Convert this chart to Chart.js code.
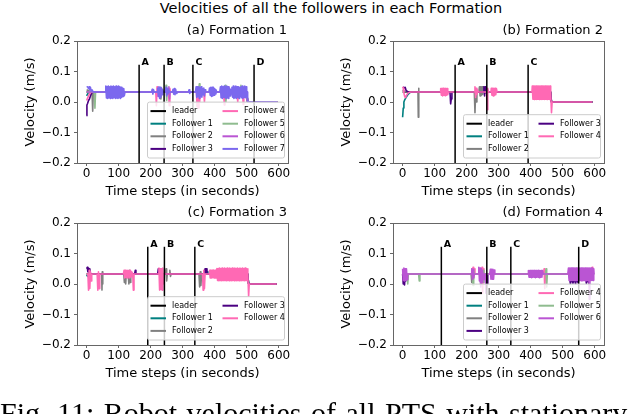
<!DOCTYPE html>
<html>
<head>
<meta charset="utf-8">
<script src="https://cdn.jsdelivr.net/npm/chart.js@4.4.1/dist/chart.umd.min.js"></script>
<style>
  html, body { margin: 0; padding: 0; background: #fff; }
  body { width: 632px; height: 414px; overflow: hidden; position: relative; font-family: "DejaVu Sans", sans-serif; }
  .panel { position: absolute; width: 316px; height: 185px; }
  #suptitle { position: absolute; left: 331px; top: 0; transform: translateX(-50%); font-size: 14.5px; line-height: 17px; white-space: nowrap; color: #000; }
  #caption { position: absolute; left: 0; top: 398px; font-family: "Liberation Serif", serif; font-size: 30px; line-height: 30px; white-space: nowrap; word-spacing: 2px; color: #000; }
</style>
</head>
<body>
<div id="suptitle">Velocities of all the followers in each Formation</div>
<div class="panel" style="left:0;top:20px"><canvas id="pa"></canvas></div>
<div class="panel" style="left:316px;top:20px"><canvas id="pb"></canvas></div>
<div class="panel" style="left:0;top:202px"><canvas id="pc"></canvas></div>
<div class="panel" style="left:316px;top:202px"><canvas id="pd"></canvas></div>
<div id="caption">Fig. 11: Robot velocities of all PTS with stationary obstacles</div>

<script>
// axis ticks
const timeTicks = [0, 100, 200, 300, 400, 500, 600];
const velTicks = [-0.2, -0.1, 0, 0.1, 0.2];
const velTickLabels = ["−0.2", "−0.1", "0.0", "0.1", "0.2"];

// event markers (A, B, C, D)
const markerNames = ["A", "B", "C", "D"];
const markerTop = 0.122;
const eventsA = [164, 242, 332, 523];
const eventsB = [164, 263, 392];
const eventsC = [191, 243, 338];
const eventsD = [121, 263, 338, 550];

// ---- Formation 1 ----
const leaderA = [[0,0.033],[500,0.033],[503,0],[596,0]];
const f1A = [[0,0.02],[5,0.03],[12,0.033],[500,0.033],[503,0],[596,0]];
const f2A = [[0,0.04],[10,0.035],[17,0.033],[19,-0.03],[21,0.033],[230,0.033],[232,0.01],[234,0.045],[236,0.033],[500,0.033],[503,0],[596,0]];
const f3A = [[0,-0.045],[1,-0.01],[3,-0.005],[6,0.005],[9,0.01],[12,0.02],[16,0.03],[20,0.033],[500,0.033],[503,0],[596,0]];
const f4A = [[0,0.005],[4,0.015],[8,0.025],[12,0.03],[16,0.033],[216,0.033],[218,-0.012],[220,0.05],[222,0.02],[224,0.033],
  [256,0.033],[258,-0.012],[260,0.045],[262,0.033],[343,0.033],[345,-0.015],[347,0.05],[349,-0.02],[351,0.045],[353,0.0],
  [355,0.033],[366,0.033],[368,0.0],[370,0.033],[428,0.033],[430,-0.01],[432,0.04],[434,0.033],[470,0.033],[472,0.0],
  [474,0.033],[487,0.033],[489,-0.008],[491,0.033],[500,0.033],[503,0],[596,0]];
const f5A = [[0,0.033],[24,0.033],[26,-0.02],[28,0.033],[246,0.033],[248,0.055],[250,0.005],[252,0.033],[350,0.033],[352,0.06],
  [354,0.033],[431,0.033],[433,0.055],[435,0.0],[437,0.033],[480,0.033],[482,0.055],[484,0.033],[500,0.033],[503,0],[596,0]];
const f6A = [[0,0.033],[255,0.033],[257,0.05],[259,0.01],[261,0.033],[440,0.033],[442,0.05],[444,0.033],[500,0.033],[503,0],[596,0]];
const f7A = [[0,0.05],[3,0.05],[6,0.044],[8,0.05],[10,0.04],[12,0.048],[14,0.036],[17,0.04],[20,0.034],[25,0.033],[58,0.033],
  [60,0.052],[62,0.013],[64,0.051],[66,0.012],[68,0.052],[70,0.014],[72,0.05],[74,0.012],[76,0.052],[78,0.013],
  [80,0.051],[82,0.012],[84,0.052],[86,0.015],[88,0.05],[90,0.012],[92,0.052],[94,0.013],[96,0.051],[98,0.012],
  [100,0.052],[102,0.014],[104,0.05],[106,0.012],[108,0.048],[110,0.016],[112,0.046],[114,0.018],[116,0.044],[118,0.022],
  [120,0.033],[203,0.033],[205,0.042],[207,0.026],[209,0.04],[211,0.033],[220,0.033],[222,0.046],[224,0.018],
  [226,0.05],[228,0.012],[230,0.048],[232,0.016],[234,0.046],[236,0.024],[238,0.04],[240,0.033],[246,0.033],
  [248,0.048],[250,0.02],[252,0.044],[254,0.026],[256,0.04],[258,0.033],[268,0.033],[270,0.042],[272,0.026],
  [274,0.044],[276,0.024],[278,0.042],[280,0.028],[282,0.033],[318,0.033],[320,0.04],[322,0.028],[324,0.033],
  [340,0.033],[342,0.05],[344,0.015],[346,0.05],[348,0.018],[350,0.05],[352,0.012],[354,0.048],[356,0.02],[358,0.05],
  [360,0.016],[362,0.044],[364,0.024],[366,0.046],[368,0.02],[370,0.04],[372,0.033],[382,0.033],[384,0.046],
  [386,0.022],[388,0.048],[390,0.018],[392,0.048],[394,0.02],[396,0.048],[398,0.022],[400,0.044],[402,0.026],
  [404,0.04],[406,0.033],[416,0.033],
  [418,0.05],[420,0.014],[422,0.052],[424,0.012],[426,0.05],[428,0.016],[430,0.052],[432,0.014],[434,0.05],[436,0.012],
  [438,0.052],[440,0.014],[442,0.05],[444,0.012],[446,0.046],[448,0.02],[450,0.042],[452,0.026],[454,0.048],[456,0.016],
  [458,0.052],[460,0.012],[462,0.05],[464,0.014],[466,0.052],[468,0.012],[470,0.05],[472,0.016],[474,0.05],[476,0.012],
  [478,0.048],[480,0.018],[482,0.05],[484,0.014],[486,0.052],[488,0.012],[490,0.05],[492,0.016],[494,0.052],[496,0.014],
  [498,0.05],[500,0.016],[501,0.033],[503,0.0],[596,0.0]];

// ---- Formation 2 ----
const leaderB = [[0,0.033],[462,0.033],[465,0],[593,0]];
const f1B = [[0,-0.05],[2,-0.02],[4,0.0],[7,0.008],[11,0.015],[15,0.022],[20,0.028],[26,0.033],[462,0.033],[465,0],[593,0]];
const f2B = [[0,0.04],[6,0.035],[10,0.033],[48,0.033],[49,-0.05],[50,0.045],[51,0.033],[224,0.033],[226,-0.035],[228,0.03],
  [230,0.0],[232,0.033],[238,0.033],[240,0.05],[242,0.02],[244,0.05],[246,0.022],[248,0.05],[250,0.025],[252,0.05],
  [254,0.033],[462,0.033],[465,0],[593,0]];
const f3B = [[2,0.05],[5,0.045],[8,0.048],[11,0.038],[14,0.035],[18,0.033],[148,0.033],[150,-0.006],[152,0.01],[154,0.033],
  [252,0.033],[254,0.05],[256,0.02],[258,0.05],[260,0.03],[262,0.033],[462,0.033],[465,0],[593,0]];
const f4B = [[0,0.05],[2,0.045],[4,0.03],[6,0.02],[8,0.015],[10,0.018],[14,0.025],[18,0.03],[24,0.033],
  [118,0.033],[119,0.044],[121,0.022],[123,0.045],[125,0.02],[127,0.045],[129,0.022],[131,0.044],[133,0.021],[135,0.045],
  [137,0.022],[139,0.044],[141,0.024],[143,0.033],[224,0.033],[226,0.05],[228,0.015],[230,0.045],[232,0.025],[234,0.04],
  [236,0.033],[262,0.033],[264,-0.025],[266,0.045],[268,0.033],[276,0.033],[277,0.045],[279,0.022],[281,0.045],[283,0.02],
  [285,0.045],[287,0.022],[289,0.045],[291,0.024],[293,0.044],[295,0.033],[404,0.033],
  [405,0.052],[407,0.009],[409,0.052],[411,0.008],[413,0.052],[415,0.009],[417,0.052],[419,0.008],[421,0.052],[423,0.009],
  [425,0.052],[427,0.008],[429,0.052],[431,0.009],[433,0.052],[435,0.008],[437,0.052],[439,0.009],[441,0.052],[443,0.008],
  [445,0.052],[447,0.009],[449,0.052],[451,0.008],[453,0.052],[455,0.009],[457,0.052],[459,0.008],[461,0.052],[462,0.01],
  [463,0.033],[465,-0.035],[467,0.0],[593,0.0]];

// ---- Formation 3 ----
const leaderC = [[0,0.033],[503,0.033],[506,0],[594,0]];
const f1C = [[0,0.03],[3,0.025],[6,0.03],[10,0.033],[375,0.033],[377,0.04],[379,0.033],[503,0.033],[506,0],[594,0]];
const f2C = [[0,0.033],[47,0.033],[48,-0.02],[49,0.04],[50,0.0],[51,0.033],[116,0.033],[118,0.005],[120,0.04],[122,0.0],
  [124,0.033],[130,0.033],[132,0.0],[134,0.045],[136,0.005],[138,0.033],[226,0.033],[228,0.05],[230,0.0],[232,0.05],
  [234,0.01],[236,0.033],[246,0.033],[248,0.05],[250,0.01],[252,0.033],[258,0.033],[260,0.045],[262,0.025],[264,0.033],
  [351,0.033],[353,-0.01],[355,0.04],[357,-0.005],[359,0.033],[503,0.033],[506,0],[594,0]];
const f3C = [[0,0.05],[2,0.055],[4,0.04],[6,0.052],[8,0.038],[10,0.05],[12,0.033],[150,0.033],[152,0.045],[154,0.033],
  [222,0.033],[224,0.05],[226,0.035],[228,0.05],[230,0.033],[368,0.033],[370,0.05],[372,0.038],[374,0.05],[376,0.033],
  [503,0.033],[506,0],[594,0]];
const f4C = [[0,0.033],[4,0.033],[6,-0.02],[8,0.045],[10,-0.015],[12,0.04],[14,0.01],[16,0.033],[33,0.033],[35,-0.02],
  [37,0.04],[39,-0.015],[41,0.033],[115,0.033],[117,0.045],[119,0.02],[121,0.045],[123,0.022],[125,0.044],[127,0.02],
  [129,0.045],[131,0.024],[133,0.044],[135,0.02],[137,0.045],[139,0.024],[141,0.04],[144,0.033],[146,-0.02],[148,0.033],
  [224,0.033],[226,0.052],[228,-0.02],[230,0.05],[232,-0.018],[234,0.05],[236,-0.02],[238,0.052],[240,0.0],[242,0.033],
  [362,0.033],[364,-0.02],[366,0.045],[368,-0.015],[370,0.033],[383,0.033],
  [384,0.045],[386,0.02],[388,0.046],[390,0.02],[392,0.045],[394,0.021],[396,0.046],[398,0.02],[400,0.045],[402,0.02],
  [404,0.046],[406,0.02],
  [407,0.051],[409,0.012],[411,0.051],[413,0.011],[415,0.052],[417,0.012],[419,0.051],[421,0.011],[423,0.052],[425,0.012],
  [427,0.051],[429,0.011],[431,0.052],[433,0.012],[435,0.051],[437,0.011],[439,0.052],[441,0.012],[443,0.051],[445,0.011],
  [447,0.052],[449,0.012],[451,0.051],[453,0.011],[455,0.052],[457,0.012],[459,0.051],[461,0.011],[463,0.052],[465,0.012],
  [467,0.051],[469,0.011],[471,0.052],[473,0.012],[475,0.051],[477,0.011],[479,0.052],[481,0.012],[483,0.051],[485,0.011],
  [487,0.052],[489,0.012],[491,0.051],[493,0.011],[495,0.052],[497,0.012],[499,0.051],[501,0.011],[503,0.05],
  [504,0.033],[506,-0.04],[508,0.0],[594,0.0]];

// ---- Formation 4 ----
const leaderD = [[0,0.033],[598,0.033]];
const f1D = [[0,0.033],[598,0.033]];
const f2D = [[0,0.033],[214,0.033],[216,0.005],[218,0.05],[220,0.033],[243,0.033],[245,0.0],[247,0.045],[249,0.033],[598,0.033]];
const f3D = [[0,0.033],[2,0.0],[4,0.02],[6,-0.003],[8,0.025],[10,0.01],[12,0.033],[240,0.033],[242,0.05],[244,0.0],
  [246,0.05],[248,0.005],[250,0.033],[262,0.033],[264,0.0],[266,0.033],[520,0.033],[524,0.0],[528,0.02],[532,0.002],
  [536,0.02],[540,0.0],[544,0.02],[548,0.004],[552,0.033],[570,0.033],[574,0.002],[578,0.02],[582,0.0],[586,0.033],[598,0.033]];
const f4D = [[0,0.033],[218,0.033],[220,0.055],[222,0.02],[224,0.05],[226,0.033],[246,0.033],[248,0.055],[250,-0.03],
  [252,0.05],[254,0.033],[440,0.033],[442,0.05],[444,-0.015],[446,0.033],[590,0.033],[592,0.055],[594,0.033],[598,0.033]];
const f5D = [[0,0.033],[14,0.033],[16,0.0],[18,0.033],[50,0.033],[52,0.01],[54,0.033],[218,0.033],[220,-0.005],[222,0.045],
  [224,0.033],[250,0.033],[252,0.045],[254,0.005],[256,0.033],[446,0.033],[448,0.05],[450,-0.01],[452,0.033],[598,0.033]];
const f6D = [[0,0.05],[2,0.012],[4,0.052],[6,0.01],[8,0.05],[10,0.012],[12,0.05],[14,0.014],[16,0.033],[214,0.033],
  [216,0.05],[218,0.015],[220,0.048],[222,0.02],[224,0.033],[236,0.033],[238,0.055],[240,0.01],[242,0.052],[244,-0.01],
  [246,0.05],[248,0.005],[250,0.045],[252,0.015],[254,0.033],[258,0.033],[260,-0.03],[262,0.033],[272,0.033],[274,0.048],
  [276,0.016],[278,0.048],[280,0.016],[282,0.048],[284,0.016],[286,0.046],[288,0.033],[392,0.033],
  [393,0.044],[395,0.022],[397,0.044],[399,0.022],[401,0.045],[403,0.021],[405,0.044],[407,0.022],[409,0.044],[411,0.022],
  [413,0.045],[415,0.021],[417,0.044],[419,0.022],[421,0.044],[423,0.022],[425,0.045],[427,0.021],[429,0.044],[431,0.022],
  [433,0.044],[435,0.022],[437,0.044],[439,0.033],[516,0.033],
  [518,0.052],[520,0.012],[522,0.052],[524,0.012],[526,0.052],[528,0.012],[530,0.052],[532,0.012],[534,0.052],[536,0.012],
  [538,0.052],[540,0.012],[542,0.052],[544,0.012],[546,0.052],[548,0.012],[550,0.052],[552,0.012],[554,0.052],[556,0.012],
  [558,0.052],[560,0.01],[562,0.052],[564,0.012],[566,0.052],[568,0.012],[570,0.052],[572,0.01],[574,0.052],[576,0.012],
  [578,0.052],[580,0.012],[582,0.052],[583,-0.05],[585,0.052],[587,0.012],[589,0.052],[591,0.012],[593,0.052],[595,0.012],
  [597,0.05],[598,0.033]];

const lineColors = {
  "leader": "#000000",
  "Follower 1": "#008080",
  "Follower 2": "#808080",
  "Follower 3": "#4b0082",
  "Follower 4": "#ff69b4",
  "Follower 5": "#8fbc8f",
  "Follower 6": "#ba55d3",
  "Follower 7": "#7b68ee"
};

const panels = [
  { id: "pa", title: "(a) Formation 1", events: eventsA,
    series: [["leader", leaderA], ["Follower 1", f1A], ["Follower 2", f2A], ["Follower 3", f3A],
             ["Follower 4", f4A], ["Follower 5", f5A], ["Follower 6", f6A], ["Follower 7", f7A]] },
  { id: "pb", title: "(b) Formation 2", events: eventsB,
    series: [["leader", leaderB], ["Follower 1", f1B], ["Follower 2", f2B], ["Follower 3", f3B], ["Follower 4", f4B]] },
  { id: "pc", title: "(c) Formation 3", events: eventsC,
    series: [["leader", leaderC], ["Follower 1", f1C], ["Follower 2", f2C], ["Follower 3", f3C], ["Follower 4", f4C]] },
  { id: "pd", title: "(d) Formation 4", events: eventsD,
    series: [["leader", leaderD], ["Follower 1", f1D], ["Follower 2", f2D], ["Follower 3", f3D],
             ["Follower 4", f4D], ["Follower 5", f5D], ["Follower 6", f6D]] }
];

// frame, subplot title, A/B/C/D labels and legend box
function decor(p) {
  return {
    id: "decor",
    afterDraw(chart) {
      const ctx = chart.ctx, ca = chart.chartArea;
      const xs = chart.scales.x, ys = chart.scales.y;
      ctx.save();
      ctx.strokeStyle = "#666";
      ctx.lineWidth = 1;
      ctx.strokeRect(Math.round(ca.left) + 0.5, Math.round(ca.top) + 0.5,
                     Math.round(ca.right - ca.left), Math.round(ca.bottom - ca.top));

      ctx.fillStyle = "#000";
      ctx.font = '13px "DejaVu Sans"';
      ctx.textAlign = "right";
      ctx.textBaseline = "middle";
      ctx.fillText(p.title, ca.right - 1, ca.top - 10);

      ctx.font = 'bold 9.5px "DejaVu Sans"';
      ctx.textAlign = "left";
      ctx.textBaseline = "alphabetic";
      p.events.forEach((ev, i) => {
        ctx.fillText(markerNames[i], xs.getPixelForValue(ev) + 2.5, ys.getPixelForValue(markerTop) + 0.5);
      });

      const rows = Math.ceil(p.series.length / 2);
      const w = 137, h = rows * 12.6 + 5.5;
      const right = ca.right - 3.5, bottom = ca.bottom - 5;
      const left = right - w, top = bottom - h, r = 2;
      ctx.beginPath();
      ctx.moveTo(left + r, top);
      ctx.lineTo(right - r, top);
      ctx.quadraticCurveTo(right, top, right, top + r);
      ctx.lineTo(right, bottom - r);
      ctx.quadraticCurveTo(right, bottom, right - r, bottom);
      ctx.lineTo(left + r, bottom);
      ctx.quadraticCurveTo(left, bottom, left, bottom - r);
      ctx.lineTo(left, top + r);
      ctx.quadraticCurveTo(left, top, left + r, top);
      ctx.closePath();
      ctx.fillStyle = "rgba(255,255,255,0.8)";
      ctx.fill();
      ctx.strokeStyle = "#cccccc";
      ctx.stroke();

      ctx.font = '8px "DejaVu Sans"';
      ctx.textBaseline = "middle";
      p.series.forEach(([name], i) => {
        const col = Math.floor(i / rows), row = i % rows;
        const cy = top + 9 + row * 12.6;
        const x0 = left + 3 + col * 72;
        ctx.strokeStyle = lineColors[name];
        ctx.lineWidth = 2;
        ctx.beginPath();
        ctx.moveTo(x0, cy);
        ctx.lineTo(x0 + 15.5, cy);
        ctx.stroke();
        ctx.fillStyle = "#000";
        ctx.fillText(name, x0 + 21.5, cy);
      });
      ctx.restore();
    }
  };
}

function makeChart(p) {
  const datasets = [];
  p.events.forEach(ev => datasets.push({
    data: [[ev, -0.2], [ev, markerTop]], borderColor: "#000", borderWidth: 1.5
  }));
  p.series.slice().reverse().forEach(([name, pts]) => datasets.push({
    data: pts, borderColor: lineColors[name], borderWidth: 1.6
  }));

  new Chart(document.getElementById(p.id), {
    type: "line",
    data: { datasets },
    options: {
      responsive: true,
      maintainAspectRatio: false,
      animation: false,
      layout: { padding: { top: 21, right: 28, left: 0, bottom: 0 } },
      elements: {
        point: { radius: 0 },
        line: { tension: 0, borderJoinStyle: "round", fill: false }
      },
      plugins: { legend: { display: false }, tooltip: { enabled: false } },
      scales: {
        x: {
          type: "linear", min: -30, max: 629,
          afterBuildTicks: s => { s.ticks = timeTicks.map(v => ({ value: v })); },
          afterFit: s => { s.height = 42; },
          ticks: { font: { family: "DejaVu Sans", size: 12 }, color: "#000", padding: 1, maxRotation: 0, autoSkip: false },
          grid: { display: true, drawOnChartArea: false, drawTicks: true, tickLength: 3, color: "#666" },
          border: { display: false },
          title: { display: true, text: "Time steps (in seconds)", color: "#000",
                   font: { family: "DejaVu Sans", size: 13 }, padding: { top: 0, bottom: 6 } }
        },
        y: {
          type: "linear", min: -0.2, max: 0.2,
          afterBuildTicks: s => { s.ticks = velTicks.map(v => ({ value: v })); },
          afterFit: s => { s.width = 77; },
          ticks: {
            font: { family: "DejaVu Sans", size: 12 }, color: "#000", padding: 3,
            callback: v => velTickLabels[velTicks.findIndex(t => Math.abs(t - v) < 1e-9)]
          },
          grid: { display: true, drawOnChartArea: false, drawTicks: true, tickLength: 3, color: "#666" },
          border: { display: false },
          title: { display: true, text: "Velocity (m/s)", color: "#000",
                   font: { family: "DejaVu Sans", size: 13 }, padding: { top: 23, bottom: 0 } }
        }
      }
    },
    plugins: [decor(p)]
  });
}

panels.forEach(makeChart);
</script>
</body>
</html>
